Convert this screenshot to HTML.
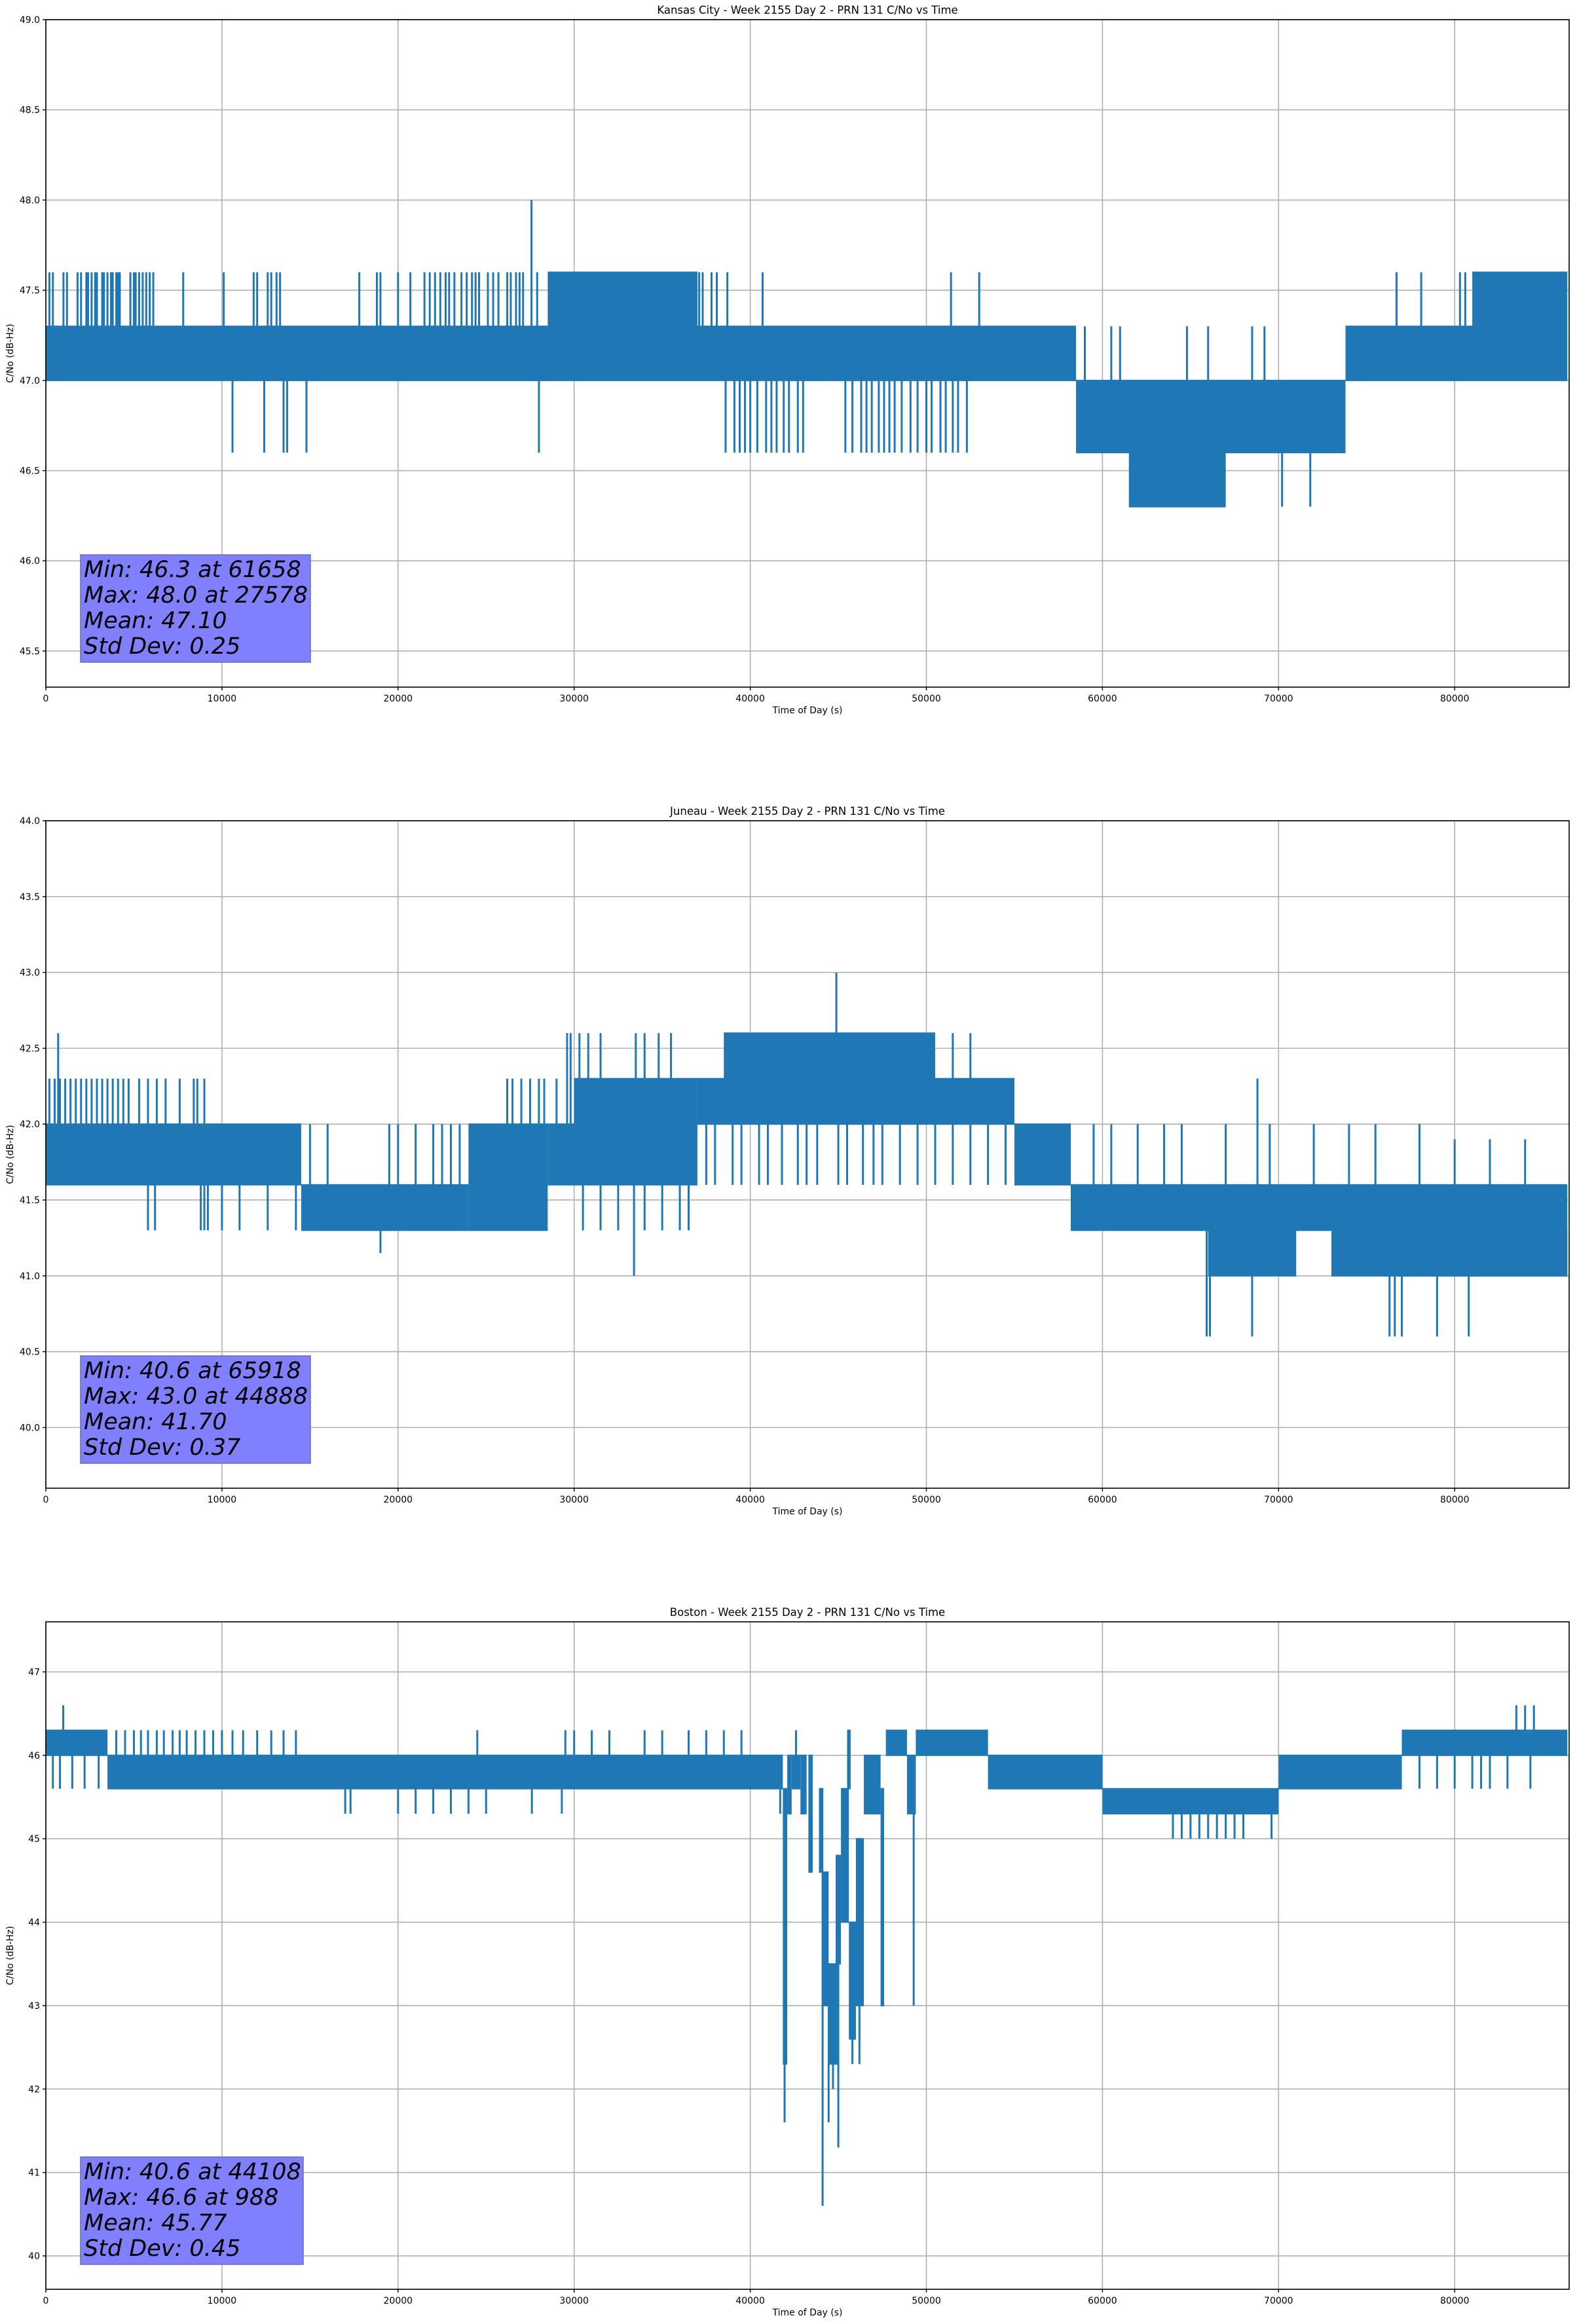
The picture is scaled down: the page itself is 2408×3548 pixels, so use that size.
<!DOCTYPE html>
<html>
<head>
<meta charset="utf-8">
<style>
  html, body { margin: 0; padding: 0; background: #ffffff; }
  body { width: 2408px; height: 3548px; overflow: hidden; }
  svg { display: block; font-family: "DejaVu Sans", "Liberation Sans", sans-serif; }
</style>
</head>
<body>
<svg id="fig" width="2408" height="3548" viewBox="0 0 2408 3548" xmlns="http://www.w3.org/2000/svg"></svg>
<script>
// ---------------- shared axis data ----------------
const xTicks = [0, 10000, 20000, 30000, 40000, 50000, 60000, 70000, 80000];
const xMax = 86500;

// ---------------- Kansas City ----------------
const kcTitle = "Kansas City - Week 2155 Day 2 - PRN 131 C/No vs Time";
const kcYTicks = [45.5, 46.0, 46.5, 47.0, 47.5, 48.0, 48.5, 49.0];
const kcYRange = [45.3, 49.0];
const kcBandStart = [0, 28500, 58500, 61500, 73800, 81000];
const kcBandEnd   = [58500, 37000, 73800, 67000, 86400, 86400];
const kcBandLo    = [47.0, 47.3, 46.6, 46.3, 47.0, 47.3];
const kcBandHi    = [47.3, 47.6, 47.0, 46.6, 47.3, 47.6];
const kcSpikeT = [200,400,1000,1200,1800,2000,2300,2400,2600,2800,2900,3200,3300,3500,3700,3800,4000,4100,4200,4800,5000,5100,5300,5500,5700,5900,6100,7800,10100,11800,12000,12600,12800,13100,13300,17800,18800,19000,20000,20700,21500,21800,22100,22400,22700,22900,23200,23600,23900,24200,24400,24600,25100,25400,25700,26200,26400,26700,26900,27100,27578,27900,37100,37300,37800,38100,38700,40700,51400,53000,76700,78100,80300,80600,
  10600,12400,13500,13700,14800,28000,38600,39100,39400,39700,40000,40400,40900,41200,41500,41900,42200,42700,43000,45400,45800,46300,46600,46900,47300,47600,47900,48200,48600,49100,49500,50000,50300,50800,51100,51500,51800,52300,52700,53100,56400,57400,
  59000,60500,61000,64800,66000,68500,69200,70200,71800,72400,73200,67100,71100];
const kcSpikeV = [47.6,47.6,47.6,47.6,47.6,47.6,47.6,47.6,47.6,47.6,47.6,47.6,47.6,47.6,47.6,47.6,47.6,47.6,47.6,47.6,47.6,47.6,47.6,47.6,47.6,47.6,47.6,47.6,47.6,47.6,47.6,47.6,47.6,47.6,47.6,47.6,47.6,47.6,47.6,47.6,47.6,47.6,47.6,47.6,47.6,47.6,47.6,47.6,47.6,47.6,47.6,47.6,47.6,47.6,47.6,47.6,47.6,47.6,47.6,47.6,48.0,47.6,47.6,47.6,47.6,47.6,47.6,47.6,47.6,47.6,47.6,47.6,47.6,47.6,
  46.6,46.6,46.6,46.6,46.6,46.6,46.6,46.6,46.6,46.6,46.6,46.6,46.6,46.6,46.6,46.6,46.6,46.6,46.6,46.6,46.6,46.6,46.6,46.6,46.6,46.6,46.6,46.6,46.6,46.6,46.6,46.6,46.6,46.6,46.6,46.6,46.6,46.6,
  47.3,47.3,47.3,47.3,47.3,47.3,47.3,47.3,47.3,47.3,47.3,46.3,46.3];
const kcStats = ["Min: 46.3 at 61658", "Max: 48.0 at 27578", "Mean: 47.10", "Std Dev: 0.25"];

// ---------------- Juneau ----------------
const jnTitle = "Juneau - Week 2155 Day 2 - PRN 131 C/No vs Time";
const jnYTicks = [40.0, 40.5, 41.0, 41.5, 42.0, 42.5, 43.0, 43.5, 44.0];
const jnYRange = [39.6, 44.0];
const jnBandStart = [0, 14500, 24000, 28500, 30000, 37000, 38500, 55000, 58200, 66000, 73000, 76000];
const jnBandEnd   = [14500, 24000, 28500, 37000, 37000, 55000, 50500, 58200, 73000, 71000, 86400, 86400];
const jnBandLo    = [41.6, 41.3, 41.3, 41.6, 42.0, 42.0, 42.3, 41.6, 41.3, 41.0, 41.0, 41.0];
const jnBandHi    = [42.0, 41.6, 42.0, 42.0, 42.3, 42.3, 42.6, 42.0, 41.6, 41.3, 41.6, 41.3];
const jnSpikeT = [200,500,700,800,1100,1400,1700,2000,2300,2600,2900,3200,3500,3800,4100,4400,4700,5300,5800,6300,6800,7600,8400,8600,9000,
  5800,6200,8800,9000,9200,10000,11000,12600,14200,
  11800,15000,16000,19500,20000,21000,22000,22500,23000,23500,
  26200,26500,27000,27500,28000,28300,29000,29600,29800,30300,30800,31500,33500,34000,34800,35500,44888,51500,52500,
  37500,38000,39000,39500,40500,41000,41800,42700,43200,43800,45000,45500,46400,47000,47500,48500,49500,50500,51500,52500,53500,54500,55500,56500,
  30500,31500,32500,33400,34000,35000,36000,36500,19000,
  59500,60500,62000,63500,64500,67000,68800,69500,72000,74000,75500,78000,80000,82000,84000,85500,
  65918,66100,68500,76300,76600,77000,79000,80800];
const jnSpikeV = [42.3,42.3,42.6,42.3,42.3,42.3,42.3,42.3,42.3,42.3,42.3,42.3,42.3,42.3,42.3,42.3,42.3,42.3,42.3,42.3,42.3,42.3,42.3,42.3,42.3,
  41.3,41.3,41.3,41.3,41.3,41.3,41.3,41.3,41.3,
  42.0,42.0,42.0,42.0,42.0,42.0,42.0,42.0,42.0,42.0,
  42.3,42.3,42.3,42.3,42.3,42.3,42.3,42.6,42.6,42.6,42.6,42.6,42.6,42.6,42.6,42.6,43.0,42.6,42.6,
  41.6,41.6,41.6,41.6,41.6,41.6,41.6,41.6,41.6,41.6,41.6,41.6,41.6,41.6,41.6,41.6,41.6,41.6,41.6,41.6,41.6,41.6,41.6,41.6,
  41.3,41.3,41.3,41.0,41.3,41.3,41.3,41.3,41.15,
  42.0,42.0,42.0,42.0,42.0,42.0,42.3,42.0,42.0,42.0,42.0,42.0,41.9,41.9,41.9,41.6,
  40.6,40.6,40.6,40.6,40.6,40.6,40.6,40.6];
const jnStats = ["Min: 40.6 at 65918", "Max: 43.0 at 44888", "Mean: 41.70", "Std Dev: 0.37"];

// ---------------- Boston ----------------
const bsTitle = "Boston - Week 2155 Day 2 - PRN 131 C/No vs Time";
const bsYTicks = [40, 41, 42, 43, 44, 45, 46, 47];
const bsYRange = [39.6, 47.6];
const bsBandStart = [0, 3500, 41850, 42100, 42350, 42850, 43300, 43900, 44150, 44400, 44850, 45150, 45500, 45600, 46000, 46450, 47400, 47700, 48900, 49400, 53500, 60000, 70000, 77000];
const bsBandEnd   = [3500, 41850, 42100, 42350, 42850, 43200, 43550, 44150, 44450, 44950, 45150, 45600, 45700, 46000, 46450, 47400, 47600, 48900, 49400, 53500, 60000, 70000, 77000, 86400];
const bsBandLo    = [46.0, 45.6, 42.3, 45.3, 45.6, 45.3, 44.6, 44.6, 43.0, 42.3, 43.5, 44.0, 45.6, 42.6, 43.0, 45.3, 43.0, 46.0, 45.3, 46.0, 45.6, 45.3, 45.6, 46.0];
const bsBandHi    = [46.3, 46.0, 45.6, 46.0, 46.0, 46.0, 46.0, 45.6, 44.6, 43.5, 44.8, 45.6, 46.3, 44.0, 45.0, 46.0, 45.6, 46.3, 46.0, 46.3, 46.0, 45.6, 46.0, 46.3];
const bsSpikeT = [988,4000,4500,5000,5400,5800,6300,6700,7200,7600,8000,8500,9000,9500,10000,10600,11200,12000,12800,13500,14200,24500,29500,30000,31000,32000,34000,35000,36500,37500,38500,39500,
  400,800,1500,2200,3000,
  17000,17300,20000,21000,22000,23000,24000,25000,27600,29300,41700,
  83500,84000,84500,
  78000,79000,80000,81000,81500,82000,83000,84300,
  64000,64500,65000,65500,66000,66500,67000,67500,68000,69600,
  41950,43840,44108,44450,44700,45000,45800,46200,49280,42600,44000];
const bsSpikeV = [46.6,46.3,46.3,46.3,46.3,46.3,46.3,46.3,46.3,46.3,46.3,46.3,46.3,46.3,46.3,46.3,46.3,46.3,46.3,46.3,46.3,46.3,46.3,46.3,46.3,46.3,46.3,46.3,46.3,46.3,46.3,46.3,
  45.6,45.6,45.6,45.6,45.6,
  45.3,45.3,45.3,45.3,45.3,45.3,45.3,45.3,45.3,45.3,45.3,
  46.6,46.6,46.6,
  45.6,45.6,45.6,45.6,45.6,45.6,45.6,45.6,
  45.0,45.0,45.0,45.0,45.0,45.0,45.0,45.0,45.0,45.0,
  41.6,42.0,40.6,41.6,42.0,41.3,42.3,42.3,43.0,46.3,44.6];
const bsStats = ["Min: 40.6 at 44108", "Max: 46.6 at 988", "Mean: 45.77", "Std Dev: 0.45"];

// ---------------- rendering ----------------
const NS = "http://www.w3.org/2000/svg";
const fig = document.getElementById("fig");
const LEFT = 70, RIGHT = 2396, H = 1019;
const BLUE = "#1f77b4";

function mk(tag, attrs, parent) {
  const e = document.createElementNS(NS, tag);
  for (const k in attrs) e.setAttribute(k, attrs[k]);
  parent.appendChild(e);
  return e;
}

function drawChart(key, top, title, yTicks, yRange, bS, bE, bLo, bHi, sT, sV, stats, boxW, decimals) {
  const bottom = top + H;
  const xs = t => LEFT + t / xMax * (RIGHT - LEFT);
  const ys = v => top + (yRange[1] - v) / (yRange[1] - yRange[0]) * H;
  const g = mk("g", {}, fig);
  
  

  const clipId = "clip-" + key;
  const defs = mk("defs", {}, g);
  const cp = mk("clipPath", { id: clipId }, defs);
  mk("rect", { x: LEFT, y: top, width: RIGHT - LEFT, height: H }, cp);

  // grid
  const grid = mk("g", { stroke: "#b0b0b0", "stroke-width": 1.6 }, g);
  
  
  xTicks.forEach(t => { mk("line", { x1: xs(t), x2: xs(t), y1: top, y2: bottom }, grid); });
  yTicks.forEach(v => { mk("line", { x1: LEFT, x2: RIGHT, y1: ys(v), y2: ys(v) }, grid); });

  // series
  const series = mk("g", { "clip-path": "url(#" + clipId + ")" }, g);
  
  
  for (let i = 0; i < bS.length; i++) {
    const r = mk("rect", { x: xs(bS[i]), y: ys(bHi[i]) - 1, width: Math.max(2, xs(bE[i]) - xs(bS[i])), height: ys(bLo[i]) - ys(bHi[i]) + 2, fill: BLUE }, series);
    
    
  }
  for (let i = 0; i < sT.length; i++) {
    const t = sT[i], v = sV[i];
    let base = null;
    for (let j = 0; j < bS.length; j++) {
      if (t >= bS[j] && t <= bE[j]) {
        if (v > bHi[j]) { base = base === null ? bHi[j] : Math.max(base, bHi[j]); }
        else if (v < bLo[j]) { base = base === null ? bLo[j] : Math.min(base, bLo[j]); }
        else if (base === null) { base = v; }
      }
    }
    if (base === null) base = v;
    const l = mk("line", { x1: xs(t), x2: xs(t), y1: ys(base), y2: ys(v), stroke: BLUE, "stroke-width": 3 }, series);
    
    
  }

  // spines
  const sp = mk("rect", { x: LEFT, y: top, width: RIGHT - LEFT, height: H, fill: "none", stroke: "#000", "stroke-width": 1.6 }, g);
  
  

  // x ticks
  const xt = mk("g", { "font-size": 14, fill: "#000", "text-anchor": "middle" }, g);
  
  
  xTicks.forEach(t => {
    mk("line", { x1: xs(t), x2: xs(t), y1: bottom, y2: bottom + 5, stroke: "#000", "stroke-width": 1.4 }, xt);
    const tx = mk("text", { x: xs(t), y: bottom + 22 }, xt);
    tx.textContent = String(t);
    
    
  });
  // y ticks
  const yt = mk("g", { "font-size": 14, fill: "#000", "text-anchor": "end" }, g);
  
  
  yTicks.forEach(v => {
    mk("line", { x1: LEFT - 5, x2: LEFT, y1: ys(v), y2: ys(v), stroke: "#000", "stroke-width": 1.4 }, yt);
    const tx = mk("text", { x: LEFT - 9, y: ys(v) + 5 }, yt);
    tx.textContent = v.toFixed(decimals);
    
    
  });

  // labels
  const tt = mk("text", { x: (LEFT + RIGHT) / 2, y: top - 9, "font-size": 16.5, "text-anchor": "middle", fill: "#000" }, g);
  tt.textContent = title;
  
  
  const xl = mk("text", { x: (LEFT + RIGHT) / 2, y: bottom + 40, "font-size": 14, "text-anchor": "middle", fill: "#000" }, g);
  xl.textContent = "Time of Day (s)";
  
  
  const cy = (top + bottom) / 2;
  const yl = mk("text", { x: 20, y: cy, "font-size": 14, "text-anchor": "middle", fill: "#000", transform: "rotate(-90 20 " + cy + ")" }, g);
  yl.textContent = "C/No (dB-Hz)";
  
  

  // stats box
  const bx = 123, bb = bottom - 38, bh = 164, bt = bb - bh;
  const box = mk("g", {}, g);
  
  
  mk("rect", { x: bx, y: bt, width: boxW, height: bh, fill: "#8080ff", stroke: "#6a6ab0", "stroke-width": 1.5 }, box);
  stats.forEach((s, i) => {
    const tx = mk("text", { x: bx + 5, y: bt + 34 + i * 39, "font-size": 35, "font-style": "italic", fill: "#000" }, box);
    tx.textContent = s;
    
    
  });
}

drawChart("kansas-city", 30, kcTitle, kcYTicks, kcYRange, kcBandStart, kcBandEnd, kcBandLo, kcBandHi, kcSpikeT, kcSpikeV, kcStats, 351, 1);
drawChart("juneau", 1253, jnTitle, jnYTicks, jnYRange, jnBandStart, jnBandEnd, jnBandLo, jnBandHi, jnSpikeT, jnSpikeV, jnStats, 351, 1);
drawChart("boston", 2476, bsTitle, bsYTicks, bsYRange, bsBandStart, bsBandEnd, bsBandLo, bsBandHi, bsSpikeT, bsSpikeV, bsStats, 340, 0);
</script>
</body>
</html>
